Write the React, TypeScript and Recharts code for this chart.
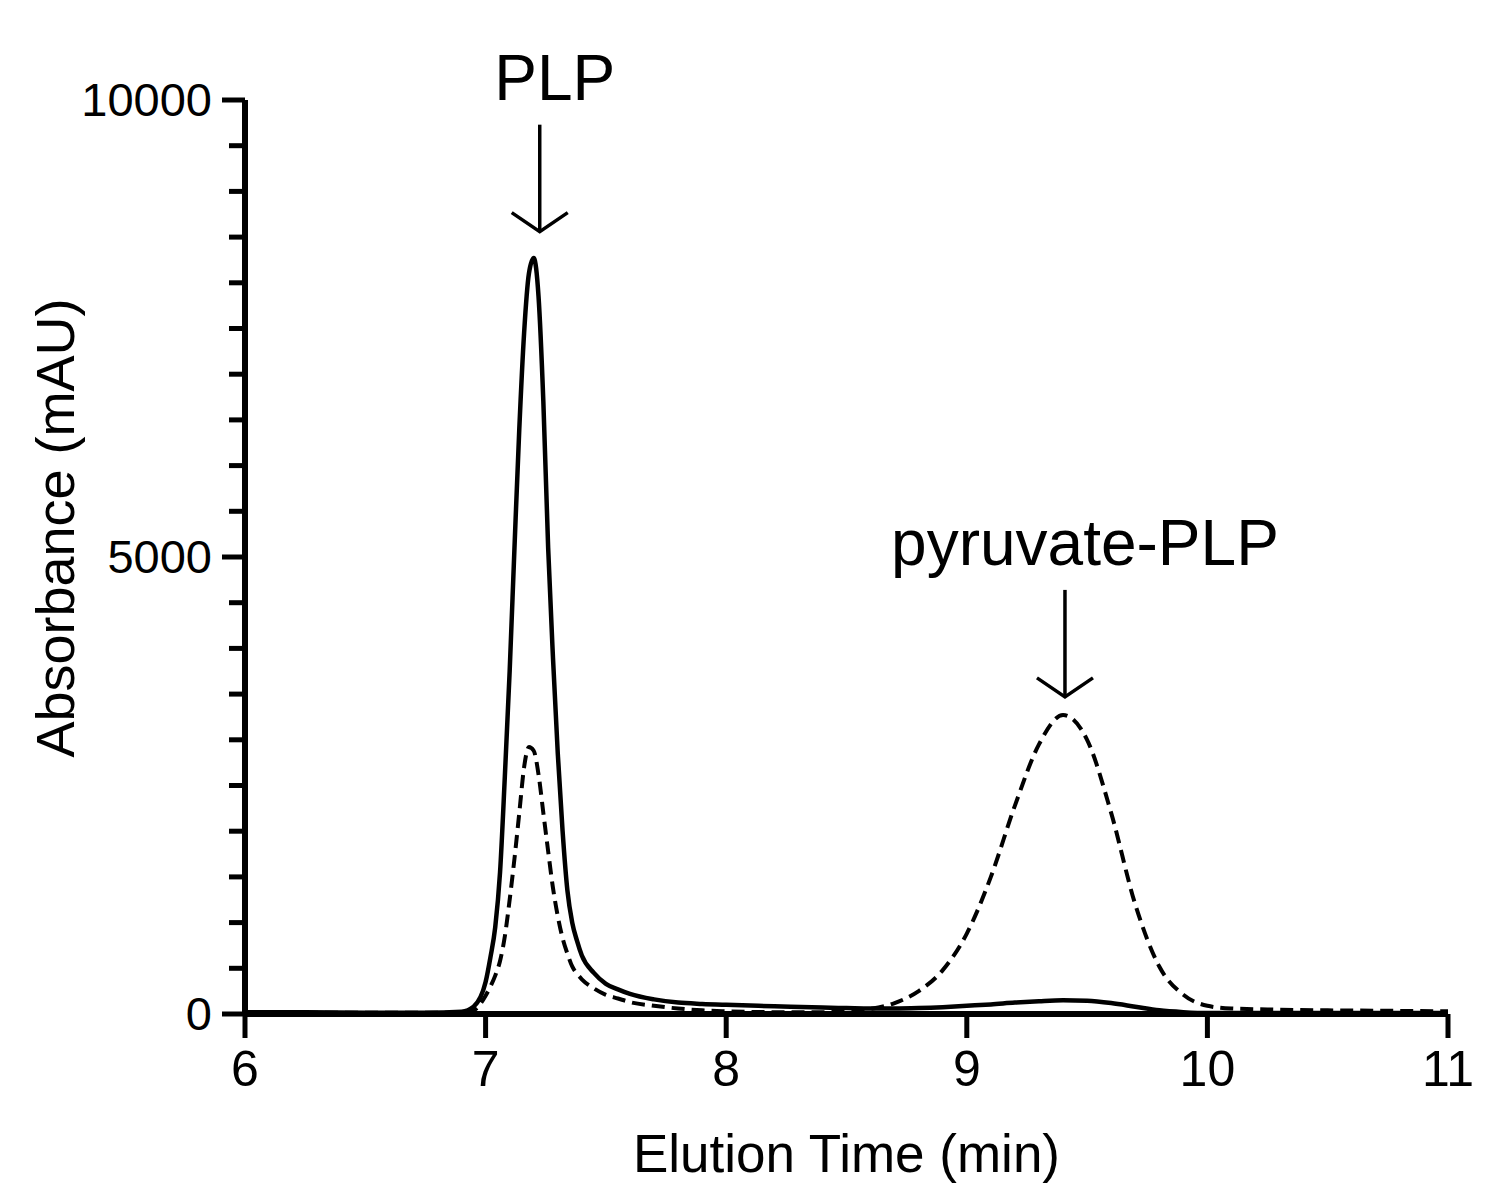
import React from 'react'
import {
  LineChart,
  Line,
  XAxis,
  YAxis,
  ReferenceLine,
} from 'recharts'

// elution time (min)
const time = [
  6.0, 6.25, 6.5, 6.75, 6.9, 6.95, 7.0, 7.02, 7.04, 7.06, 7.08, 7.1, 7.12, 7.14,
  7.16, 7.18, 7.2, 7.22, 7.24, 7.26, 7.28, 7.3, 7.32, 7.34, 7.36, 7.38, 7.4,
  7.45, 7.5, 7.55, 7.6, 7.7, 7.8, 7.9, 8.0, 8.2, 8.4, 8.5, 8.6, 8.7, 8.8, 8.9,
  9.0, 9.1, 9.2, 9.3, 9.4, 9.5, 9.6, 9.7, 9.8, 9.9, 10.0, 10.1, 10.25, 10.5,
  10.75, 11.0,
]

// solid trace
const plpTrace = [
  20, 20, 15, 15, 25, 80, 350, 620, 950, 1550, 2600, 3750, 5100, 6400,
  7450, 8100, 8270, 7850, 6700, 5100, 3900, 2850, 2000, 1350, 1000, 800, 640,
  450, 330, 270, 220, 160, 125, 110, 100, 85, 70, 65, 60, 60, 65, 75,
  90, 105, 125, 140, 150, 145, 120, 80, 40, 20, 10, 10, 10, 10,
  10, 10,
]

// dashed trace
const pyruvateTrace = [
  15, 15, 15, 15, 15, 40, 200, 300, 420, 580, 850, 1250, 1700, 2200,
  2700, 2920, 2880, 2620, 2200, 1780, 1380, 1070, 830, 660, 520, 440, 380,
  280, 210, 170, 130, 90, 60, 40, 30, 20, 20, 25, 55, 120, 250, 480,
  880, 1500, 2280, 2950, 3270, 3000, 2200, 1200, 520, 210, 90, 60, 50, 40,
  35, 30,
]

const xTicks = [6, 7, 8, 9, 10, 11]
const yTicks = [
  0, 500, 1000, 1500, 2000, 2500, 3000, 3500, 4000, 4500, 5000, 5500, 6000,
  6500, 7000, 7500, 8000, 8500, 9000, 9500, 10000,
]
const yMajor = [0, 5000, 10000]

const annotations = [
  { label: 'PLP', x: 7.225, top: 9730, tip: 8560, dx: 15 },
  { label: 'pyruvate-PLP', x: 9.408, top: 4640, tip: 3470, dx: 20 },
]

const data = time.map((t, i) => ({
  t,
  plp: plpTrace[i],
  pyr: pyruvateTrace[i],
}))

const FONT = '"Liberation Sans", Arial, sans-serif'
const Y_TICK_SIZE = 23
const Y_TICK_MARGIN = 10

const YTick = (props: any) => {
  const { x, y, payload } = props
  const axisX = x + Y_TICK_SIZE + Y_TICK_MARGIN
  const major = yMajor.includes(payload.value)
  return (
    <g>
      <line
        x1={axisX - (major ? 23 : 16)}
        x2={axisX}
        y1={y}
        y2={y}
        stroke="#000"
        strokeWidth={5}
      />
      {major && (
        <text
          x={x}
          y={y}
          dy={16}
          textAnchor="end"
          fontSize={47}
          fontFamily={FONT}
          fill="#000"
        >
          {payload.value}
        </text>
      )}
    </g>
  )
}

const Arrow = (label: string, dx: number) => (props: any) => {
  const { x1, y1, y2 } = props
  return (
    <g>
      <line x1={x1} x2={x1} y1={y1} y2={y2} stroke="#000" strokeWidth={3.5} />
      <polyline
        points={`${x1 - 28},${y2 - 19} ${x1},${y2} ${x1 + 28},${y2 - 19}`}
        fill="none"
        stroke="#000"
        strokeWidth={3.5}
      />
      <text
        x={x1 + dx}
        y={y1 - 25}
        textAnchor="middle"
        fontSize={64}
        fontFamily={FONT}
        fill="#000"
      >
        {label}
      </text>
    </g>
  )
}

export default function App() {
  return (
    <div
      style={{
        width: 1500,
        height: 1202,
        margin: -8,
        boxSizing: 'border-box',
        border: '2px solid #7a7a7a',
        background: '#fff',
      }}
    >
      <LineChart
        width={1496}
        height={1198}
        data={data}
        margin={{ top: 98, right: 50, bottom: 0, left: 0 }}
      >
        <XAxis
          dataKey="t"
          type="number"
          domain={[6, 11]}
          ticks={xTicks}
          height={186}
          tickSize={24}
          tickMargin={12}
          axisLine={{ stroke: '#000', strokeWidth: 6 }}
          tickLine={{ stroke: '#000', strokeWidth: 5 }}
          tick={{ fill: '#000', fontSize: 50, fontFamily: FONT }}
          label={{
            value: 'Elution Time (min)',
            position: 'insideBottom',
            offset: 28,
            fill: '#000',
            fontSize: 53,
            fontFamily: FONT,
          }}
        />
        <YAxis
          type="number"
          domain={[0, 10000]}
          ticks={yTicks}
          interval={0}
          width={243}
          tickSize={Y_TICK_SIZE}
          tickMargin={Y_TICK_MARGIN}
          tickLine={false}
          axisLine={{ stroke: '#000', strokeWidth: 6 }}
          tick={<YTick />}
          label={(p: any) => {
            const vb = p.viewBox
            const cx = 53
            const cy = vb.y + vb.height / 2 - 29
            return (
              <text
                x={cx}
                y={cy}
                transform={`rotate(-90, ${cx}, ${cy})`}
                dy={19}
                textAnchor="middle"
                fontSize={54}
                fontFamily={FONT}
                fill="#000"
              >
                Absorbance (mAU)
              </text>
            )
          }}
        />
        <Line
          type="monotone"
          dataKey="plp"
          stroke="#000"
          strokeWidth={4.5}
          dot={false}
          isAnimationActive={false}
        />
        <Line
          type="monotone"
          dataKey="pyr"
          stroke="#000"
          strokeWidth={4}
          strokeDasharray="13 7"
          dot={false}
          isAnimationActive={false}
        />
        {annotations.map((a) => (
          <ReferenceLine
            key={a.label}
            segment={[
              { x: a.x, y: a.top },
              { x: a.x, y: a.tip },
            ]}
            ifOverflow="visible"
            shape={Arrow(a.label, a.dx)}
          />
        ))}
      </LineChart>
    </div>
  )
}
